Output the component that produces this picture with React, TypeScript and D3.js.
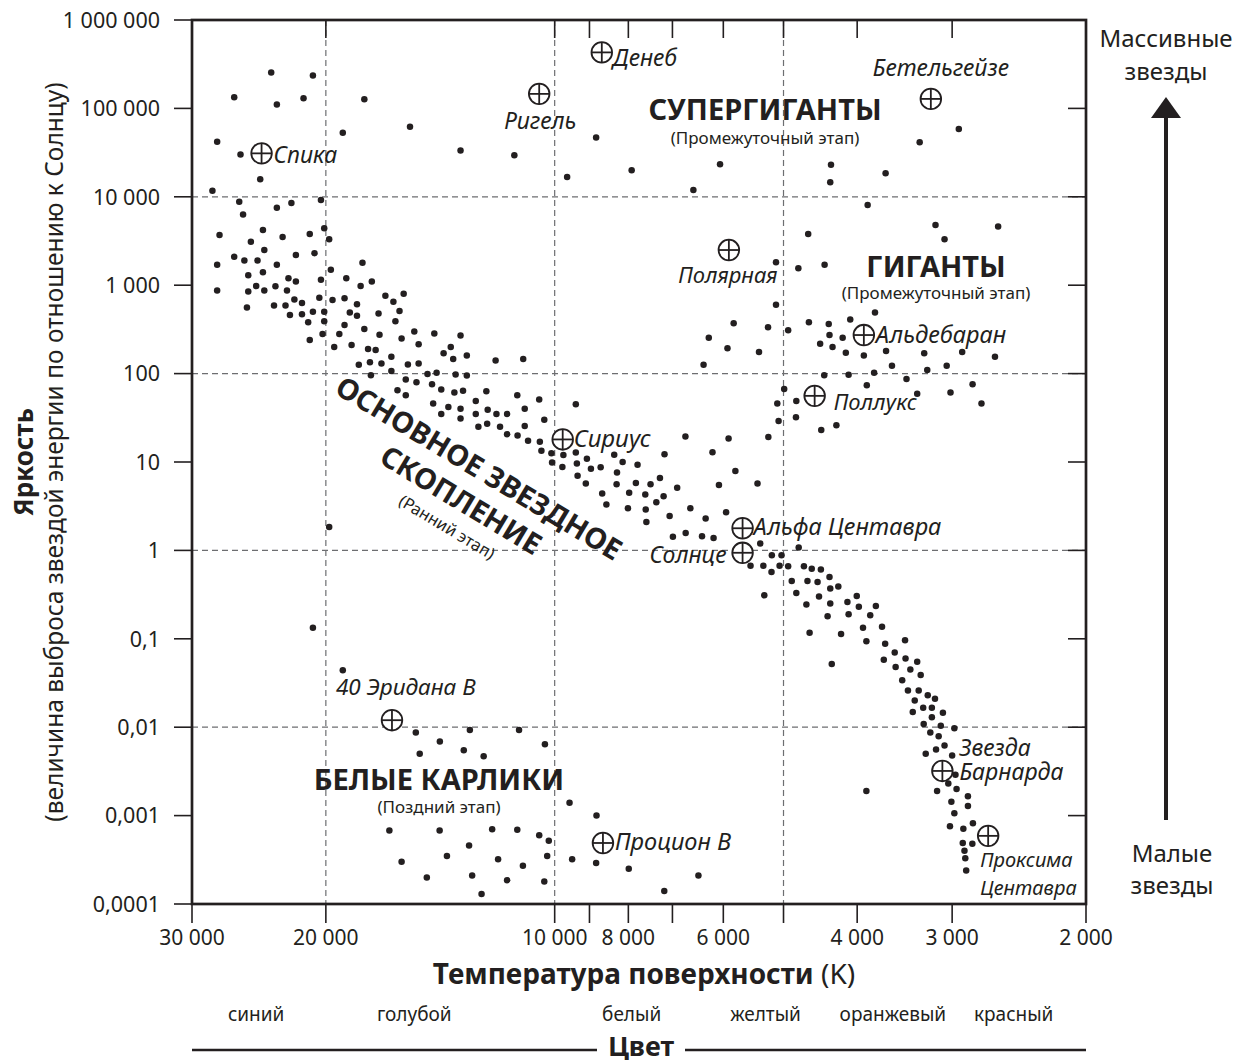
import { useEffect, useRef } from 'react';
import * as d3 from 'd3';

// Axis ticks
const tempTicks = [30000, 20000, 10000, 9000, 8000, 7000, 6000, 5000, 4000, 3000, 2000];
const tempLabels = ['30 000', '20 000', '10 000', '', '8 000', '', '6 000', '', '4 000', '3 000', '2 000'];
const lumTicks = [1e6, 1e5, 1e4, 1e3, 100, 10, 1, 0.1, 0.01, 0.001, 0.0001];
const lumLabels = ['1 000 000', '100 000', '10 000', '1 000', '100', '10', '1', '0,1', '0,01', '0,001', '0,0001'];
const tempGrid = [20000, 10000, 5000];
const lumGrid = [1e4, 100, 1, 0.01];

// Colour names along the temperature axis (temperature under each word)
const colorNames = ['синий', 'голубой', 'белый', 'желтый', 'оранжевый', 'красный'];
const colorTemps = [24700, 15300, 7920, 5280, 3590, 2490];

// [temperature K, luminosity (Sun = 1)]
const supergiants: [number, number][] = [
  [23600, 255000], [20800, 235000], [26400, 134000], [21400, 130000], [23200, 111000],
  [17800, 127000], [15500, 62000], [19000, 53000], [27800, 42000], [25900, 30000],
  [24400, 15800], [28200, 11700], [13300, 33500], [11300, 29500], [8820, 47000],
  [9630, 16800], [7920, 20000], [6060, 23300], [6570, 11900], [2940, 58500],
  [3310, 41400], [4330, 23000], [4340, 14600], [3670, 18500],
];

const mainSequence: [number, number][] = [
  [26000, 8800], [25700, 6300], [23200, 7500], [22200, 8500], [20300, 9200],
  [27600, 3700], [24200, 4200], [25100, 3100], [22800, 3500], [21000, 3800],
  [20100, 4400], [19800, 3300], [24100, 2500], [21900, 2200], [20700, 2300],
  [26400, 2100], [25600, 1900], [24600, 1900], [23200, 1700], [27800, 1700],
  [17900, 1800], [19700, 1500], [25300, 1300], [24200, 1400], [22400, 1200],
  [21900, 1100], [20300, 1150], [18800, 1200], [17400, 1100], [18000, 980],
  [27800, 870], [24700, 980], [25300, 850], [24100, 870], [23300, 970],
  [22500, 870], [16700, 760], [15800, 800], [16300, 650], [20400, 720],
  [19600, 680], [18900, 710], [18200, 610], [22000, 690], [21500, 630],
  [25400, 560], [23400, 590], [22600, 590], [22300, 460], [21500, 470],
  [20800, 500], [20100, 500], [18600, 490], [18200, 450], [17050, 480],
  [16000, 510], [16200, 390], [21100, 380], [20100, 390], [18900, 355],
  [17800, 320], [20200, 280], [19200, 280], [17000, 275], [15300, 300],
  [14400, 285], [13300, 270], [15900, 250], [21000, 240], [19500, 200],
  [18500, 210], [17600, 190], [17200, 185], [15100, 215], [13700, 200],
  [14000, 170], [13600, 146], [13050, 160], [16400, 155], [18100, 126],
  [17500, 134], [16900, 130], [15600, 127], [15100, 130], [16400, 107],
  [17450, 96], [14700, 99], [14300, 102], [13500, 98], [13050, 95],
  [15700, 86], [15200, 80], [14500, 76], [16100, 65], [15700, 57],
  [14100, 66], [13550, 61], [13200, 64], [12300, 63], [12700, 49],
  [14450, 46], [13800, 42], [13300, 40], [12700, 35], [12250, 39],
  [14100, 35], [13300, 31], [11960, 141], [11000, 146], [11200, 57],
  [10480, 51], [9380, 45], [11930, 35], [11550, 35], [10950, 40],
  [12600, 25], [12270, 27], [11800, 25], [10950, 25.5], [10320, 30],
  [11550, 20.6], [11190, 20], [10840, 17.4], [10460, 17], [10410, 13.4],
  [10100, 12.6], [10080, 9.9], [9740, 12], [9770, 8.8], [9380, 12.8],
  [9350, 9.6], [9330, 7.0], [9070, 10.9], [8960, 8.4], [9100, 5.7],
  [8700, 8.7], [8660, 4.4], [8550, 3.3], [8350, 12.1], [8280, 7.6],
  [8140, 10], [7780, 9.3], [8290, 5.6], [7980, 4.5], [8010, 3.0],
  [7820, 5.8], [7600, 4.3], [7590, 2.9], [7575, 2.1], [7480, 5.6],
  [7350, 3.5], [7270, 6.6], [7190, 4.1], [7170, 12.2], [7060, 2.45],
  [6900, 5.1], [6730, 19.4], [6630, 3.0], [6330, 2.3], [6200, 12.9],
  [6080, 5.5], [5950, 2.7], [5905, 18.4], [5785, 7.9], [5410, 5.7],
  [5235, 19.2], [6990, 1.43], [6725, 1.57], [6400, 1.45], [6180, 1.38],
  [5365, 1.2], [4775, 1.08],
  [5525, 0.67], [5315, 0.67], [5180, 0.88], [5030, 0.88], [5060, 0.67],
  [4930, 0.66], [5185, 0.57], [4700, 0.66], [4590, 0.62], [4465, 0.61],
  [4877, 0.45], [4650, 0.45], [4510, 0.44], [4350, 0.5], [4340, 0.37],
  [4235, 0.39], [5300, 0.31], [4810, 0.33], [4665, 0.245], [4490, 0.30],
  [4340, 0.25], [4120, 0.26], [4005, 0.305], [3980, 0.23], [3780, 0.235],
  [4375, 0.18], [4105, 0.19], [3845, 0.185], [4620, 0.117], [4200, 0.113],
  [3930, 0.133], [3710, 0.137], [3890, 0.094], [3675, 0.088], [3460, 0.096],
  [4320, 0.052], [3570, 0.070], [3690, 0.058], [3455, 0.060], [3335, 0.055],
  [3560, 0.048], [3405, 0.045], [3300, 0.039], [3490, 0.034], [3430, 0.026],
  [3320, 0.026], [3230, 0.023], [3160, 0.021], [3360, 0.020], [3275, 0.0166],
  [3190, 0.0166], [3085, 0.0146], [3380, 0.0149], [3190, 0.013], [3270, 0.0109],
  [3105, 0.0104], [2980, 0.0097], [3205, 0.0087], [3125, 0.0079], [3150, 0.0056],
  [3070, 0.0062], [3250, 0.005], [3000, 0.0048], [2970, 0.0029], [3035, 0.0023],
  [2960, 0.0020], [3140, 0.0019], [2860, 0.00165], [3007, 0.00143], [2860, 0.00128],
  [2980, 0.00106], [2817, 0.00082], [3020, 0.00076], [2900, 0.00071], [2905, 0.00049],
  [2822, 0.00048], [2890, 0.00040], [2883, 0.00033], [2875, 0.00024],
];

const giants: [number, number][] = [
  [4640, 3800], [5115, 1820], [4780, 1550], [5115, 600], [4415, 1700],
  [3875, 8100], [3155, 4800], [3070, 3300], [2610, 4600], [3790, 490],
  [5815, 370], [5240, 334], [4930, 310], [4630, 380], [4360, 365],
  [4085, 410], [6270, 255], [4350, 273], [4180, 255], [5925, 194],
  [5385, 175], [4475, 218], [4310, 200], [4140, 172], [3920, 160],
  [3665, 180], [3265, 170], [2910, 176], [2635, 155], [6370, 126],
  [3600, 123], [3235, 110], [3050, 123], [4420, 96], [4105, 97],
  [3800, 102], [3445, 87], [3885, 74], [3015, 61], [2820, 76],
  [3335, 59], [2745, 46], [4990, 67], [4810, 49], [5095, 46],
  [4815, 32], [5075, 29], [4260, 26], [4460, 23],
];

const whiteDwarfs: [number, number][] = [
  [20800, 0.133], [19000, 0.044],
  [15230, 0.0087], [15050, 0.005], [12930, 0.0093], [11140, 0.0093], [14160, 0.0069],
  [13170, 0.0055], [12400, 0.0047], [10300, 0.0064], [9560, 0.0014], [8810, 0.001],
  [16500, 0.00068], [14170, 0.00068], [12085, 0.0007], [11200, 0.00069], [10480, 0.0006],
  [10180, 0.00052], [12960, 0.00046], [13860, 0.00035], [11870, 0.00032], [11010, 0.00027],
  [10230, 0.00035], [15900, 0.0003], [14730, 0.0002], [12840, 0.00021], [11550, 0.000186],
  [10320, 0.00018], [12480, 0.00013], [9485, 0.00032], [8820, 0.00029], [7990, 0.00025],
  [6470, 0.00021], [7175, 0.00014],
];

const strays: [number, number][] = [[19800, 1.84], [3890, 0.0019]];

// Named stars
const starNames = [
  'Спика', 'Денеб', 'Ригель', 'Бетельгейзе', 'Полярная', 'Альдебаран', 'Поллукс',
  'Сириус', 'Альфа Центавра', 'Солнце', '40 Эридана B', 'Процион B',
  'Звезда\nБарнарда', 'Проксима\nЦентавра',
];
const starTemps = [24300, 8670, 10480, 3200, 5900, 3920, 4550, 9760, 5660, 5660, 16370, 8640, 3090, 2690];
const starLums = [31000, 430000, 146000, 128000, 2500, 273, 56, 18, 1.78, 0.94, 0.012, 0.00049, 0.0032, 0.00059];

// label placement relative to the marker
const labelPlace: Record<string, { dx: number; dy: number; anchor: string; size: number; lead?: number }> = {
  'Спика': { dx: 12, dy: 10, anchor: 'start', size: 23 },
  'Денеб': { dx: 11, dy: 14, anchor: 'start', size: 23 },
  'Ригель': { dx: 1, dy: 35, anchor: 'middle', size: 23 },
  'Бетельгейзе': { dx: 10, dy: -23, anchor: 'middle', size: 23 },
  'Полярная': { dx: -1, dy: 33, anchor: 'middle', size: 22 },
  'Альдебаран': { dx: 12, dy: 8, anchor: 'start', size: 23.5 },
  'Поллукс': { dx: 19, dy: 14, anchor: 'start', size: 22 },
  'Сириус': { dx: 11, dy: 8, anchor: 'start', size: 24 },
  'Альфа Центавра': { dx: 11, dy: 7, anchor: 'start', size: 23.5 },
  'Солнце': { dx: -16, dy: 10, anchor: 'end', size: 23 },
  '40 Эридана B': { dx: -56, dy: -25, anchor: 'start', size: 22.5 },
  'Процион B': { dx: 12, dy: 7, anchor: 'start', size: 23.5 },
  'Звезда\nБарнарда': { dx: 17, dy: -15, anchor: 'start', size: 23, lead: 24 },
  'Проксима\nЦентавра': { dx: -8, dy: 31, anchor: 'start', size: 20, lead: 28 },
};

const INK = '#231f20';
const FONT = '"Noto Sans", "Open Sans", sans-serif';

export default function App() {
  const svgRef = useRef<SVGSVGElement>(null);

  useEffect(() => {
    if (!svgRef.current) return;
    const svg = d3.select(svgRef.current);
    svg.selectAll('*').remove();

    const left = 192, right = 1086, top = 20, bottom = 904;
    const x = d3.scaleLog().domain([30000, 2000]).range([left, right]);
    const y = d3.scaleLog().domain([1e-4, 1e6]).range([bottom, top]);

    const txt = (sel: any) => sel.attr('fill', INK).attr('font-family', FONT);

    // Grid
    const grid = svg.append('g')
      .attr('stroke', '#6d6e71')
      .attr('stroke-width', 1.2)
      .attr('stroke-dasharray', '6 4');
    tempGrid.forEach(t => {
      grid.append('line').attr('x1', x(t)).attr('x2', x(t)).attr('y1', top).attr('y2', bottom);
    });
    lumGrid.forEach(l => {
      grid.append('line').attr('x1', left).attr('x2', right).attr('y1', y(l)).attr('y2', y(l));
    });

    // Ticks
    const ticks = svg.append('g').attr('stroke', INK).attr('stroke-width', 1.6);
    lumTicks.forEach(l => {
      ticks.append('line').attr('x1', left - 18).attr('x2', left).attr('y1', y(l)).attr('y2', y(l));
      ticks.append('line').attr('x1', right - 18).attr('x2', right).attr('y1', y(l)).attr('y2', y(l));
    });
    tempTicks.forEach(t => {
      ticks.append('line').attr('x1', x(t)).attr('x2', x(t)).attr('y1', top).attr('y2', top + 18);
      ticks.append('line').attr('x1', x(t)).attr('x2', x(t)).attr('y1', bottom).attr('y2', bottom + 19);
    });

    // Frame
    svg.append('rect')
      .attr('x', left).attr('y', top)
      .attr('width', right - left).attr('height', bottom - top)
      .attr('fill', 'none').attr('stroke', INK).attr('stroke-width', 2.7);

    // Tick labels
    lumTicks.forEach((l, i) => {
      svg.append('text').call(txt)
        .attr('x', 160).attr('y', y(l) + 7.8)
        .attr('text-anchor', 'end').attr('font-size', 21.5)
        .text(lumLabels[i]);
    });
    tempTicks.forEach((t, i) => {
      if (!tempLabels[i]) return;
      svg.append('text').call(txt)
        .attr('x', x(t)).attr('y', 945)
        .attr('text-anchor', 'middle').attr('font-size', 21)
        .text(tempLabels[i]);
    });

    // Dots
    const dots = svg.append('g').attr('fill', INK);
    [supergiants, mainSequence, giants, whiteDwarfs, strays].forEach(group => {
      group.forEach(([t, l]) => {
        dots.append('circle').attr('cx', x(t)).attr('cy', y(l)).attr('r', 3.25);
      });
    });

    // Named stars
    starNames.forEach((name, i) => {
      const cx = x(starTemps[i]);
      const cy = y(starLums[i]);
      const m = svg.append('g').attr('transform', `translate(${cx},${cy})`);
      m.append('circle').attr('r', 10.3).attr('fill', '#fff').attr('stroke', INK).attr('stroke-width', 1.8);
      m.append('line').attr('x1', -10.3).attr('x2', 10.3).attr('stroke', INK).attr('stroke-width', 1.8);
      m.append('line').attr('y1', -10.3).attr('y2', 10.3).attr('stroke', INK).attr('stroke-width', 1.8);

      const p = labelPlace[name];
      const lines = name.split('\n');
      const t = svg.append('text').call(txt)
        .attr('font-size', p.size).attr('font-style', 'italic')
        .attr('text-anchor', p.anchor);
      lines.forEach((ln, j) => {
        t.append('tspan').attr('x', cx + p.dx).attr('y', cy + p.dy + j * (p.lead ?? 0)).text(ln);
      });
    });

    // Region labels
    const region = (label: string, sub: string, cx: number, by: number, subBy: number) => {
      svg.append('text').call(txt)
        .attr('x', cx).attr('y', by).attr('text-anchor', 'middle')
        .attr('font-size', 29).attr('font-weight', 700).text(label);
      svg.append('text').call(txt)
        .attr('x', cx).attr('y', subBy).attr('text-anchor', 'middle')
        .attr('font-size', 17).text(sub);
    };
    region('СУПЕРГИГАНТЫ', '(Промежуточный этап)', 765, 120, 144);
    region('ГИГАНТЫ', '(Промежуточный этап)', 936, 277, 299);
    region('БЕЛЫЕ КАРЛИКИ', '(Поздний этап)', 439, 790, 813);

    // Main sequence label, rotated
    const ms = [
      { s: 'ОСНОВНОЕ ЗВЕЗДНОЕ', cx: 479, cy: 468, size: 29, w: 700 },
      { s: 'СКОПЛЕНИЕ', cx: 461, cy: 500, size: 29, w: 700 },
      { s: '(Ранний этап)', cx: 447, cy: 527, size: 16.5, w: 400 },
    ];
    ms.forEach(d => {
      svg.append('text').call(txt)
        .attr('transform', `translate(${d.cx},${d.cy}) rotate(31)`)
        .attr('x', 0).attr('y', d.size * 0.36)
        .attr('text-anchor', 'middle')
        .attr('font-size', d.size).attr('font-weight', d.w)
        .text(d.s);
    });

    // Y axis titles
    svg.append('text').call(txt)
      .attr('transform', 'translate(33,462) rotate(-90)')
      .attr('text-anchor', 'middle').attr('font-size', 26).attr('font-weight', 700)
      .text('Яркость');
    svg.append('text').call(txt)
      .attr('transform', 'translate(63,452) rotate(-90)')
      .attr('text-anchor', 'middle').attr('font-size', 24.5)
      .text('(величина выброса звездой энергии по отношению к Солнцу)');

    // X axis title
    const xt = svg.append('text').call(txt)
      .attr('x', 644).attr('y', 984).attr('text-anchor', 'middle').attr('font-size', 28);
    xt.append('tspan').attr('font-weight', 700).text('Температура поверхности ');
    xt.append('tspan').text('(K)');

    // Colour names
    colorNames.forEach((c, i) => {
      svg.append('text').call(txt)
        .attr('x', x(colorTemps[i])).attr('y', 1021)
        .attr('text-anchor', 'middle').attr('font-size', 19)
        .text(c);
    });

    // "Цвет" bar
    svg.append('line').attr('x1', left).attr('x2', 597).attr('y1', 1050).attr('y2', 1050)
      .attr('stroke', INK).attr('stroke-width', 2.5);
    svg.append('line').attr('x1', 685).attr('x2', right).attr('y1', 1050).attr('y2', 1050)
      .attr('stroke', INK).attr('stroke-width', 2.5);
    svg.append('text').call(txt)
      .attr('x', 641).attr('y', 1056).attr('text-anchor', 'middle')
      .attr('font-size', 27).attr('font-weight', 700).text('Цвет');

    // Right-hand mass arrow
    const ax = 1166;
    svg.append('line').attr('x1', ax).attr('x2', ax).attr('y1', 112).attr('y2', 820)
      .attr('stroke', INK).attr('stroke-width', 4);
    svg.append('path')
      .attr('d', `M${ax},97 L${ax + 15},118 L${ax - 15},118 Z`)
      .attr('fill', INK);
    [['Массивные', 47], ['звезды', 80]].forEach(([s, by]) => {
      svg.append('text').call(txt)
        .attr('x', 1166).attr('y', by as number).attr('text-anchor', 'middle')
        .attr('font-size', 24).text(s as string);
    });
    [['Малые', 862], ['звезды', 894]].forEach(([s, by]) => {
      svg.append('text').call(txt)
        .attr('x', 1172).attr('y', by as number).attr('text-anchor', 'middle')
        .attr('font-size', 24).text(s as string);
    });
  }, []);

  return (
    <div style={{ position: 'absolute', left: 0, top: 0 }}>
      <svg ref={svgRef} width={1238} height={1063} viewBox="0 0 1238 1063" style={{ display: 'block', background: '#fff' }} />
    </div>
  );
}
